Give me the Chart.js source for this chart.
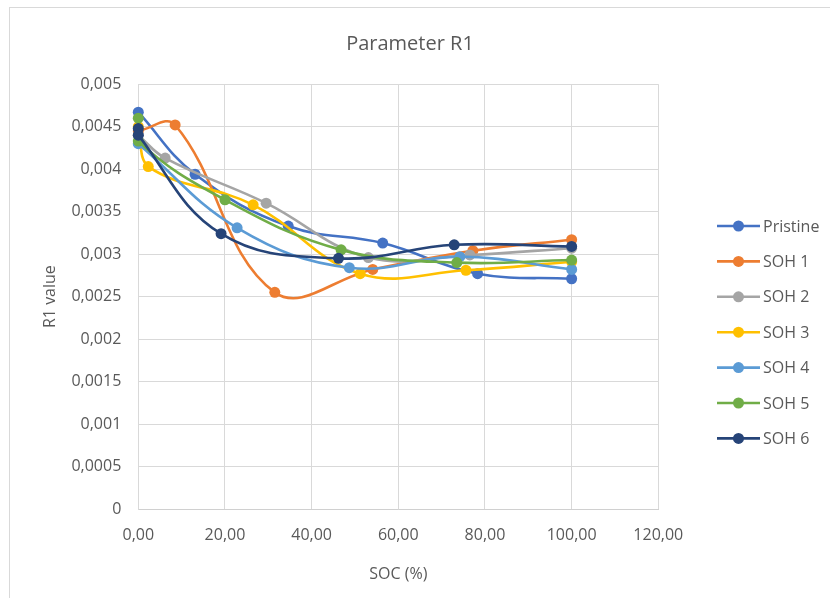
<!DOCTYPE html>
<html>
<head>
<meta charset="utf-8">
<script src="https://cdn.jsdelivr.net/npm/chart.js@4/dist/chart.umd.min.js"></script>
<style>
  html, body { margin: 0; padding: 0; background: #fff; }
  #wrap { width: 830px; height: 598px; }
</style>
</head>
<body>
<div id="wrap"><canvas id="c" width="830" height="598"></canvas></div>
<script>
// SOC (%) positions and R1 values for each battery state
const seriesNames = ['Pristine', 'SOH 1', 'SOH 2', 'SOH 3', 'SOH 4', 'SOH 5', 'SOH 6'];
const seriesColors = ['#4472C4', '#ED7D31', '#A5A5A5', '#FFC000', '#5B9BD5', '#70AD47', '#264478'];

const socPristine = [0, 13.1, 34.6, 56.4, 78.3, 100];
const r1Pristine  = [0.00467, 0.00394, 0.00333, 0.00313, 0.00277, 0.00271];

const socSoh1 = [0, 8.5, 31.5, 54.1, 77.2, 100];
const r1Soh1  = [0.00445, 0.00452, 0.00255, 0.00282, 0.00304, 0.00317];

const socSoh2 = [0, 6.2, 29.5, 53.1, 76.5, 100];
const r1Soh2  = [0.00440, 0.00413, 0.00360, 0.00296, 0.00299, 0.00307];

const socSoh3 = [0, 2.3, 26.5, 51.2, 75.6, 100];
const r1Soh3  = [0.00450, 0.00403, 0.00358, 0.00277, 0.00281, 0.00291];

const socSoh4 = [0, 22.8, 48.7, 74.2, 100];
const r1Soh4  = [0.00430, 0.00331, 0.00284, 0.00297, 0.00282];

const socSoh5 = [0, 0, 20.0, 46.8, 73.5, 100];
const r1Soh5  = [0.00460, 0.00433, 0.00364, 0.00305, 0.00290, 0.00293];

const socSoh6 = [0, 0, 19.1, 46.2, 72.9, 100];
const r1Soh6  = [0.00448, 0.00440, 0.00324, 0.00295, 0.00311, 0.00309];

const socSeries = [socPristine, socSoh1, socSoh2, socSoh3, socSoh4, socSoh5, socSoh6];
const r1Series  = [r1Pristine, r1Soh1, r1Soh2, r1Soh3, r1Soh4, r1Soh5, r1Soh6];

const chartTitle = 'Parameter R1';
const TEXT = '#595959';
const FONT = "'Open Sans', 'Noto Sans', sans-serif";

// later series are painted over earlier ones
const datasets = seriesNames.map((name, i) => ({
  label: name,
  data: socSeries[i].map((x, k) => ({ x: x, y: r1Series[i][k] })),
  order: seriesNames.length - i,
  borderColor: seriesColors[i],
  backgroundColor: seriesColors[i],
  pointBackgroundColor: seriesColors[i],
  pointBorderColor: seriesColors[i],
  pointRadius: 5.5,
  pointBorderWidth: 0,
  borderWidth: 2.6,
  tension: 0.4,
  clip: 8,
  fill: false
}));

// Outer frame of the chart object and the centred title
const framePlugin = {
  id: 'frame',
  beforeDraw(chart) {
    const ctx = chart.ctx;
    ctx.save();
    ctx.fillStyle = '#fff';
    ctx.fillRect(0, 0, chart.width, chart.height);
    ctx.strokeStyle = '#D9D9D9';
    ctx.lineWidth = 1;
    ctx.strokeRect(9.5, 7.5, chart.width + 10, chart.height + 10);
    ctx.fillStyle = TEXT;
    ctx.font = '20px ' + FONT;
    ctx.textAlign = 'center';
    ctx.textBaseline = 'middle';
    ctx.fillText(chartTitle, 410, 44);
    ctx.restore();
  }
};

// Legend with line-and-marker swatches on the right
const sideLegend = {
  id: 'sideLegend',
  afterDraw(chart) {
    const ctx = chart.ctx;
    const x0 = 717, x1 = 760, top = 226, step = 35.4;
    ctx.save();
    ctx.font = '16px ' + FONT;
    ctx.textBaseline = 'middle';
    ctx.textAlign = 'left';
    seriesNames.forEach((name, i) => {
      const y = top + i * step;
      ctx.strokeStyle = seriesColors[i];
      ctx.lineWidth = 2.6;
      ctx.beginPath();
      ctx.moveTo(x0, y);
      ctx.lineTo(x1, y);
      ctx.stroke();
      ctx.fillStyle = seriesColors[i];
      ctx.beginPath();
      ctx.arc((x0 + x1) / 2, y, 5.5, 0, Math.PI * 2);
      ctx.fill();
      ctx.fillStyle = TEXT;
      ctx.fillText(name, 763, y + 1);
    });
    ctx.restore();
  }
};

new Chart(document.getElementById('c'), {
  type: 'line',
  data: { datasets },
  plugins: [framePlugin, sideLegend],
  options: {
    responsive: false,
    animation: false,
    devicePixelRatio: 1,
    layout: { padding: { left: 0, right: 171.7, top: 84.2, bottom: 0 } },
    plugins: {
      legend: { display: false },
      tooltip: { enabled: false },
      title: { display: false }
    },
    scales: {
      x: {
        type: 'linear',
        min: 0,
        max: 120,
        ticks: {
          stepSize: 20,
          color: TEXT,
          padding: 17,
          font: { family: FONT, size: 16 },
          callback: v => v.toFixed(2).replace('.', ',')
        },
        grid: { color: '#D9D9D9', lineWidth: 1, drawTicks: false },
        border: { color: '#D0D0D0', width: 1 },
        title: {
          display: true,
          text: 'SOC (%)',
          color: TEXT,
          font: { family: FONT, size: 16 },
          padding: { top: 0, bottom: 14 }
        },
        afterFit: s => { s.height = 89; }
      },
      y: {
        type: 'linear',
        min: 0,
        max: 0.005,
        ticks: {
          stepSize: 0.0005,
          color: TEXT,
          padding: 17,
          font: { family: FONT, size: 16 },
          callback: v => String(Number(v.toFixed(4))).replace('.', ',')
        },
        grid: { color: '#D9D9D9', lineWidth: 1, drawTicks: false },
        border: { color: '#D9D9D9', width: 1 },
        title: {
          display: true,
          text: 'R1 value',
          color: TEXT,
          font: { family: FONT, size: 16 },
          padding: { top: 41, bottom: 0 }
        },
        afterFit: s => { s.width = 138.3; }
      }
    }
  }
});
</script>
</body>
</html>
